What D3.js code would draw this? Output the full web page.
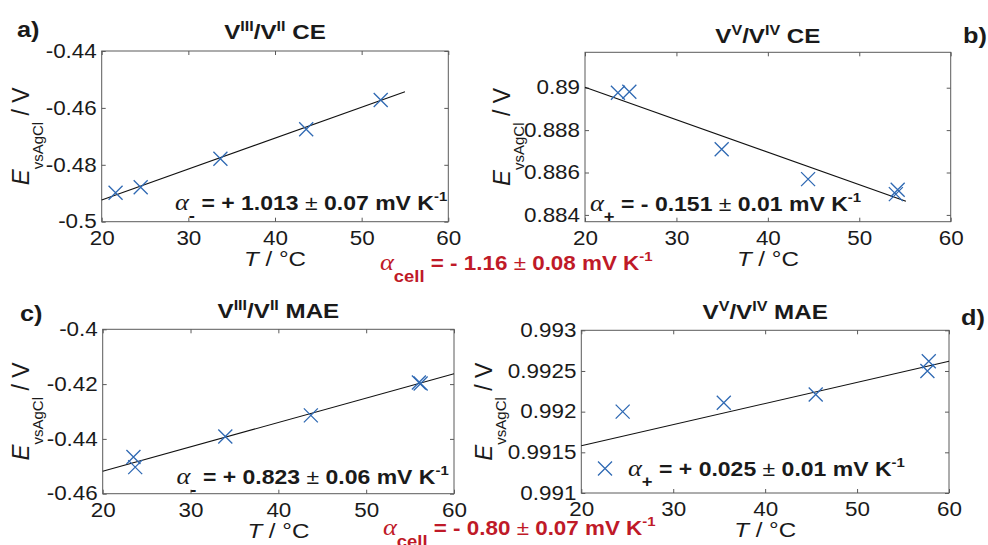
<!DOCTYPE html>
<html><head><meta charset="utf-8">
<script src="https://cdn.jsdelivr.net/npm/d3@7"></script>
<style>body{margin:0;background:#fff}svg{display:block}text{white-space:pre}</style>
</head><body><svg id="c" width="988" height="545"></svg>
<script>
// ---------- DATA ----------
const xTicks = [20, 30, 40, 50, 60];
const xDomain = [20, 60];

// a) V(III)/V(II) CE
const tempA = [21.6, 24.5, 33.7, 43.6, 52.2];
const potA  = [-0.4898, -0.4879, -0.4779, -0.4675, -0.4572];
const fitTempA = [20, 55];
const fitPotA  = [-0.4924, -0.4543];
const yDomainA = [-0.5, -0.44];
const yTicksA = [-0.5, -0.48, -0.46, -0.44];
const yTickLabelsA = ["-0.5", "-0.48", "-0.46", "-0.44"];
const coefA = ["-", " = + 1.013 ", " 0.07 mV K"];

// b) V(V)/V(IV) CE
const tempB = [23.6, 24.85, 34.95, 44.4, 54.0, 54.2];
const potB  = [0.88976, 0.88981, 0.8871, 0.88569, 0.88498, 0.88519];
const fitTempB = [20, 55.1];
const fitPotB  = [0.89002, 0.88464];
const yDomainB = [0.88368, 0.89167];
const yTicksB = [0.884, 0.886, 0.888, 0.89];
const yTickLabelsB = ["0.884", "0.886", "0.888", "0.89"];
const coefB = ["+", " = - 0.151 ", " 0.01 mV K"];

// c) V(III)/V(II) MAE
const tempC = [23.5, 23.7, 33.96, 43.7, 56.0, 56.2];
const potC  = [-0.4466, -0.4503, -0.4391, -0.4314, -0.4194, -0.4198];
const fitTempC = [20, 60];
const fitPotC  = [-0.4518, -0.4162];
const yDomainC = [-0.46, -0.4];
const yTicksC = [-0.46, -0.44, -0.42, -0.4];
const yTickLabelsC = ["-0.46", "-0.44", "-0.42", "-0.4"];
const coefC = ["-", " = + 0.823 ", " 0.06 mV K"];

// d) V(V)/V(IV) MAE
const tempD = [24.5, 35.5, 45.5, 57.65, 57.8];
const potD  = [0.99200, 0.99211, 0.99221, 0.99250, 0.99262];
const fitTempD = [20, 60];
const fitPotD  = [0.99158, 0.99262];
const yDomainD = [0.991, 0.993];
const yTicksD = [0.991, 0.9915, 0.992, 0.9925, 0.993];
const yTickLabelsD = ["0.991", "0.9915", "0.992", "0.9925", "0.993"];
const coefD = ["+", " = + 0.025 ", " 0.01 mV K"];

const titleA = ["V", "III", "/V", "II", " CE"];
const titleB = ["V", "V", "/V", "IV", " CE"];
const titleC = ["V", "III", "/V", "II", " MAE"];
const titleD = ["V", "V", "/V", "IV", " MAE"];
const panelLabels = ["a)", "b)", "c)", "d)"];
const cellTop = [" = - 1.16 ", " 0.08 mV K"];
const cellBottom = [" = - 0.80 ", " 0.07 mV K"];

// ---------- LAYOUT / STYLE ----------
const SX = 1.15;
const FONT = '"Liberation Sans", Arial, Helvetica, sans-serif';
const SERIF = '"Liberation Serif", "DejaVu Serif", serif';
const AXC = '#5a5a5a';
const TXT = '#1a1a1a';
const BLUE = '#2f69b3';
const RED = '#bf1a28';

const svg = d3.select('#c');

function rich(x, y, parts, opt = {}) {
  const tr = opt.rotate
    ? `translate(${x},${y}) rotate(-90)`
    : `translate(${x},${y}) scale(${SX},1)`;
  const t = svg.append('text')
    .attr('transform', tr)
    .attr('font-family', FONT)
    .attr('fill', opt.fill || TXT)
    .attr('text-anchor', opt.anchor || 'start');
  parts.forEach(p => {
    const s = t.append('tspan').text(p.t)
      .attr('font-size', p.fs)
      .attr('font-weight', p.fw || 'normal')
      .attr('font-style', p.fi || 'normal');
    if (p.ff) s.attr('font-family', p.ff);
    if (p.dy) s.attr('dy', p.dy);
    if (p.dx) s.attr('dx', p.dx);
  });
  return t;
}

function coefParts(sub, c, subSize, mainSize, subDy) {
  return [
    {t: 'α', ff: SERIF, fi: 'italic', fs: mainSize + 3},
    {t: sub, fs: subSize, fw: 'bold', dy: subDy},
    {t: c[0], fs: mainSize, fw: 'bold', dy: -subDy},
    {t: '±', fs: mainSize, fw: 'normal'},
    {t: c[1], fs: mainSize, fw: 'bold'},
    {t: '-1', fs: 13, fw: 'bold', dy: -9}
  ];
}

const panels = [
  {temp: tempA, pot: potA, fitT: fitTempA, fitE: fitPotA, yDomain: yDomainA, yTicks: yTicksA, yLabels: yTickLabelsA,
   title: titleA, coef: coefA, label: panelLabels[0],
   box: {l: 101.7, r: 448.3, t: 51, b: 221.7}, titleY: 39, labelPos: [17, 37], coefPos: [175, 210],
   yLabX: 29},
  {temp: tempB, pot: potB, fitT: fitTempB, fitE: fitPotB, yDomain: yDomainB, yTicks: yTicksB, yLabels: yTickLabelsB,
   title: titleB, coef: coefB, label: panelLabels[1],
   box: {l: 585, r: 950.7, t: 52.3, b: 221.7}, titleY: 42.5, labelPos: [963, 43], coefPos: [590, 210.5],
   yLabX: 510},
  {temp: tempC, pot: potC, fitT: fitTempC, fitE: fitPotC, yDomain: yDomainC, yTicks: yTicksC, yLabels: yTickLabelsC,
   title: titleC, coef: coefC, label: panelLabels[2],
   box: {l: 102.7, r: 454, t: 329.3, b: 493.7}, titleY: 317.5, labelPos: [20, 321], coefPos: [176.5, 483.5],
   yLabX: 29},
  {temp: tempD, pot: potD, fitT: fitTempD, fitE: fitPotD, yDomain: yDomainD, yTicks: yTicksD, yLabels: yTickLabelsD,
   title: titleD, coef: coefD, label: panelLabels[3],
   box: {l: 581.3, r: 949, t: 330.3, b: 493}, titleY: 318.5, labelPos: [961, 325], coefPos: [628, 476],
   yLabX: 492, legend: [605, 468.5]}
];

function styleAxis(a) {
  a.select('.domain').remove();
  a.selectAll('line').attr('stroke', AXC).attr('stroke-width', 1);
  a.selectAll('text').attr('font-family', FONT).attr('font-size', 19.5)
    .attr('fill', TXT).attr('transform', `scale(${SX},1)`);
}

function cross(g, cx, cy, s) {
  g.append('path')
    .attr('d', `M${cx - s},${cy - s}L${cx + s},${cy + s}M${cx - s},${cy + s}L${cx + s},${cy - s}`)
    .attr('stroke', BLUE).attr('stroke-width', 1.3).attr('fill', 'none');
}

panels.forEach(p => {
  const B = p.box;
  const x = d3.scaleLinear().domain(xDomain).range([B.l, B.r]);
  const y = d3.scaleLinear().domain(p.yDomain).range([B.b, B.t]);
  const g = svg.append('g');

  g.append('rect').attr('x', B.l).attr('y', B.t).attr('width', B.r - B.l).attr('height', B.b - B.t)
    .attr('fill', '#fff').attr('stroke', AXC).attr('stroke-width', 1);

  styleAxis(g.append('g').attr('transform', `translate(0,${B.b})`)
    .call(d3.axisBottom(x).tickValues(xTicks).tickFormat(d3.format('d')).tickSizeInner(-4).tickSizeOuter(0).tickPadding(9)));
  styleAxis(g.append('g').attr('transform', `translate(0,${B.t})`)
    .call(d3.axisTop(x).tickValues(xTicks).tickFormat(() => '').tickSizeInner(-4).tickSizeOuter(0)));
  styleAxis(g.append('g').attr('transform', `translate(${B.l},0)`)
    .call(d3.axisLeft(y).tickValues(p.yTicks).tickFormat((d, i) => p.yLabels[i]).tickSizeInner(-4).tickSizeOuter(0).tickPadding(4.3)));
  styleAxis(g.append('g').attr('transform', `translate(${B.r},0)`)
    .call(d3.axisRight(y).tickValues(p.yTicks).tickFormat(() => '').tickSizeInner(-4).tickSizeOuter(0)));

  // fit line
  const line = d3.line().x(d => x(d[0])).y(d => y(d[1]));
  g.append('path').datum(d3.zip(p.fitT, p.fitE)).attr('d', line)
    .attr('stroke', '#111').attr('stroke-width', 1.1).attr('fill', 'none');

  // data markers
  p.temp.forEach((t, i) => cross(g, x(t), y(p.pot[i]), 7));

  // legend marker
  if (p.legend) cross(g, p.legend[0], p.legend[1], 7);

  // coefficient text
  rich(p.coefPos[0], p.coefPos[1], coefParts(p.coef[0], p.coef.slice(1), 16, 20, 11));

  // title
  const T = p.title;
  rich((B.l + B.r) / 2, p.titleY, [
    {t: T[0], fs: 21, fw: 'bold'},
    {t: T[1], fs: 14, fw: 'bold', dy: -8},
    {t: T[2], fs: 21, fw: 'bold', dy: 8},
    {t: T[3], fs: 14, fw: 'bold', dy: -8},
    {t: T[4], fs: 21, fw: 'bold', dy: 8}
  ], {anchor: 'middle'});

  // panel label
  rich(p.labelPos[0], p.labelPos[1], [{t: p.label, fs: 22, fw: 'bold'}]);

  // x label
  rich((B.l + B.r) / 2, B.b + 44, [
    {t: 'T', fs: 21, fi: 'italic'},
    {t: ' / °C', fs: 21}
  ], {anchor: 'middle'});

  // y label
  rich(p.yLabX, (B.t + B.b) / 2, [
    {t: 'E', fs: 24, fi: 'italic'},
    {t: 'vsAgCl', fs: 15, dy: 14},
    {t: ' / V', fs: 23, dy: -14}
  ], {anchor: 'middle', rotate: true});
});

// cell coefficients (red)
function cellParts(c) {
  return [
    {t: 'α', ff: SERIF, fi: 'italic', fs: 23},
    {t: 'cell', fs: 16, fw: 'bold', dy: 12},
    {t: c[0], fs: 19.5, fw: 'bold', dy: -12},
    {t: '±', fs: 19.5},
    {t: c[1], fs: 19.5, fw: 'bold'},
    {t: '-1', fs: 13, fw: 'bold', dy: -9}
  ];
}
rich(380, 270, cellParts(cellTop), {fill: RED});
rich(383, 535, cellParts(cellBottom), {fill: RED});
</script>
</body></html>
